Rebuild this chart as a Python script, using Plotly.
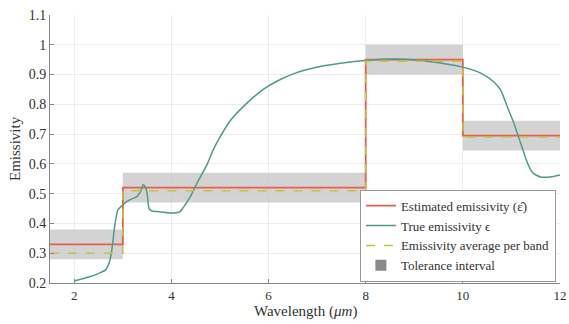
import plotly.graph_objects as go

# Band edges (µm)
band_edges = [1.5, 3, 8, 10, 12]
estimated = [0.33, 0.52, 0.95, 0.695]
average = [0.30, 0.51, 0.945, 0.69]
tol_low = [0.28, 0.47, 0.90, 0.645]
tol_high = [0.38, 0.57, 1.00, 0.745]

# True emissivity curve
true_wl = [2.0, 2.3, 2.53, 2.65, 2.70, 2.74, 2.78, 2.84, 2.90, 3.0, 3.05, 3.15, 3.29, 3.36, 3.42,
           3.47, 3.5, 3.54, 3.6, 3.70, 3.97, 4.1, 4.18, 4.25, 4.39, 4.53, 4.74, 4.86, 5.0, 5.21,
           5.56, 5.89, 6.2, 6.55, 6.92, 7.48, 8.04, 8.65, 9.33, 10.0, 10.37, 10.64, 10.78,
           10.92, 11.05, 11.19, 11.33, 11.44, 11.6, 11.8, 12.0]
true_em = [0.207, 0.22, 0.234, 0.245, 0.26, 0.28, 0.32, 0.40, 0.446, 0.462, 0.47, 0.48, 0.49, 0.506, 0.53,
           0.52, 0.50, 0.45, 0.442, 0.44, 0.435, 0.436, 0.44, 0.455, 0.49, 0.536, 0.60, 0.647, 0.69, 0.745,
           0.805, 0.85, 0.88, 0.905, 0.922, 0.938, 0.948, 0.952, 0.943, 0.925, 0.905, 0.875, 0.848,
           0.79, 0.737, 0.67, 0.603, 0.57, 0.556, 0.556, 0.563]

FONT = "Liberation Serif"
fig = go.Figure()

# Tolerance rectangles
for i in range(len(estimated)):
    x0, x1 = band_edges[i], band_edges[i + 1]
    fig.add_trace(go.Scatter(
        x=[x0, x1, x1, x0, x0], y=[tol_low[i], tol_low[i], tol_high[i], tol_high[i], tol_low[i]],
        fill="toself", fillcolor="rgba(200,200,200,0.8)", line=dict(width=0),
        mode="lines", showlegend=False, hoverinfo="skip"))

# step arrays
def step(vals):
    xs, ys = [], []
    for i, v in enumerate(vals):
        xs += [band_edges[i], band_edges[i + 1]]
        ys += [v, v]
    return xs, ys

ex, ey = step(estimated)
ax_, ay_ = step(average)

fig.add_trace(go.Scatter(x=ex, y=ey, mode="lines", name="Estimated emissivity (ε̂)",
                         line=dict(color="#e4604a", width=1.8)))
fig.add_trace(go.Scatter(x=true_wl, y=true_em, mode="lines", name="True emissivity ϵ",
                         line=dict(color="#4e9c84", width=1.5, shape="spline", smoothing=0.6)))
fig.add_trace(go.Scatter(x=ax_, y=ay_, mode="lines", name="Emissivity average per band",
                         line=dict(color="#c8c040", width=1.5, dash="dash")))
fig.add_trace(go.Scatter(x=[None], y=[None], mode="markers", name="Tolerance interval",
                         marker=dict(symbol="square", size=11, color="#8a8a8a")))

fig.update_layout(
    width=569, height=324,
    margin=dict(l=50, r=9, t=15, b=41),
    paper_bgcolor="white", plot_bgcolor="white",
    font=dict(family=FONT, size=14, color="#333333"),
    legend=dict(x=0.992, y=0.005, xanchor="right", yanchor="bottom",
                bgcolor="white", bordercolor="#999999", borderwidth=1,
                font=dict(family=FONT, size=13), itemwidth=30,
                tracegroupgap=0),
    annotations=[
        dict(text="Emissivity", xref="paper", yref="paper", x=0, y=0.5, xanchor="center",
             yanchor="middle", xshift=-35, textangle=-90, showarrow=False,
             font=dict(family=FONT, size=15, color="#333333")),
        dict(text="Wavelength (<i>μm</i>)", xref="paper", yref="paper", x=0.5, y=0,
             xanchor="center", yanchor="middle", yshift=-28, showarrow=False,
             font=dict(family=FONT, size=15, color="#333333")),
    ],
)
fig.update_xaxes(range=[1.5, 12.001], tickvals=[2, 4, 6, 8, 10, 12], showgrid=True,
                 gridcolor="#ececec", showline=True, linecolor="#888888", mirror=False,
                 ticks="inside", ticklen=4, tickcolor="#888888", automargin=False,
                 tickfont=dict(size=13), zeroline=False, ticklabeloverflow="allow")
fig.update_yaxes(range=[0.2, 1.1001], tickvals=[0.2, 0.3, 0.4, 0.5, 0.6, 0.7, 0.8, 0.9, 1, 1.1],
                 showgrid=True, gridcolor="#ececec", showline=True, linecolor="#888888",
                 ticks="inside", ticklen=4, tickcolor="#888888", automargin=False,
                 tickfont=dict(size=14), zeroline=False, ticklabeloverflow="allow")

# remove the browser's default 8px body margin so the figure fills the window exactly
fig.write_html("out.html", config={"displayModeBar": False},
               post_script="document.body.style.margin='0';document.body.style.overflow='hidden';")
